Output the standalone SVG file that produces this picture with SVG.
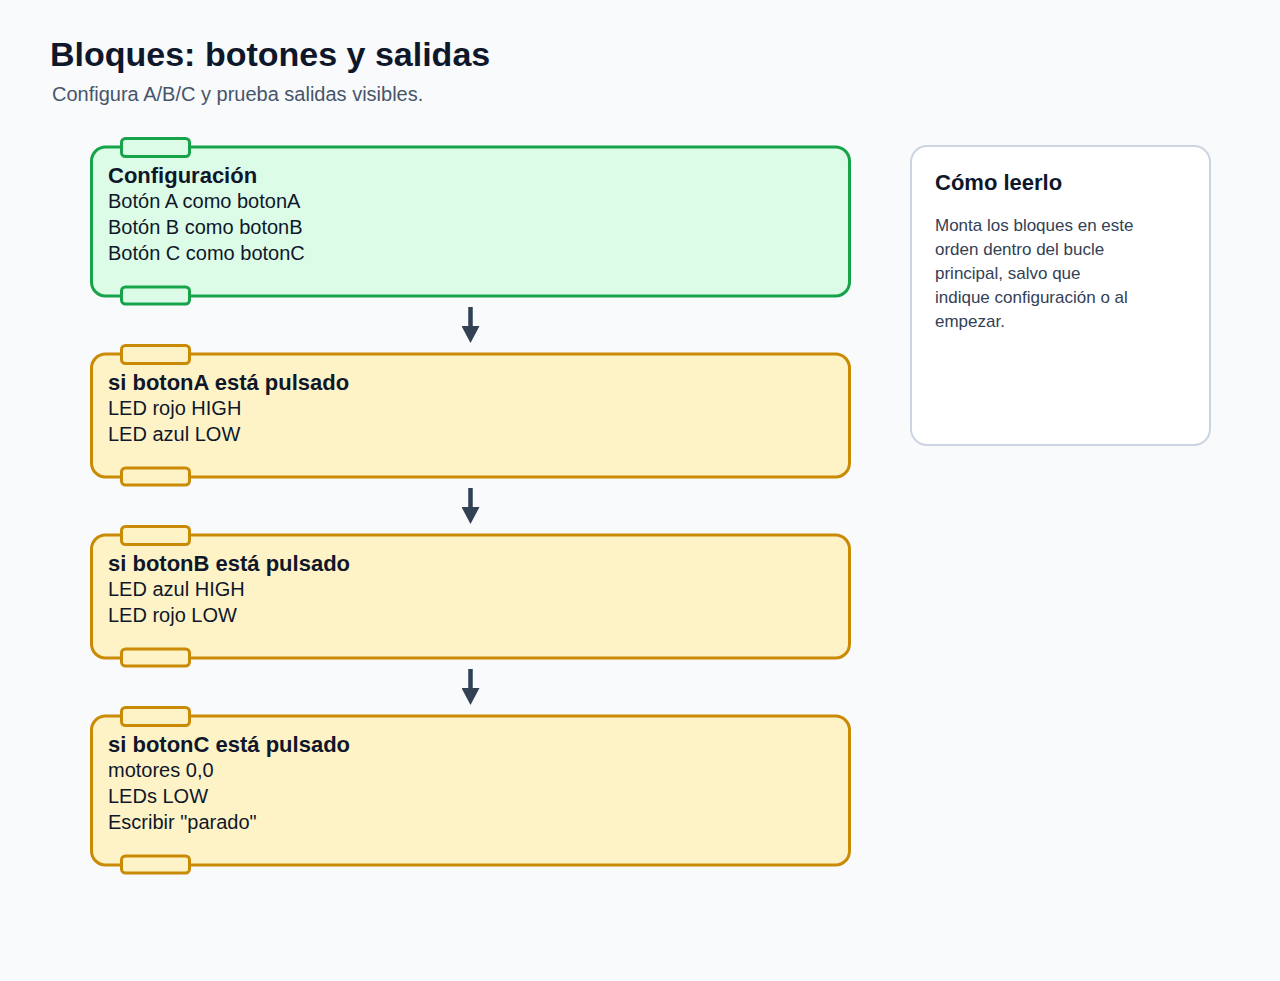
<svg xmlns="http://www.w3.org/2000/svg" width="1280" height="981" viewBox="0 0 1280 981" font-family="'Liberation Sans', Arial, Helvetica, sans-serif">
<style>
text{font-family:"Liberation Sans",Arial,Helvetica,sans-serif}
.t{fill:#0f172a}
.h{font-size:22px;font-weight:bold}
.l{font-size:20px}
.g{fill:#dcfce7;stroke:#16a34a;stroke-width:3}
.y{fill:#fef3c7;stroke:#ca8a04;stroke-width:3}
.c{stroke:#334155;stroke-width:4.5}
</style>
<defs>
<marker id="ah" markerUnits="userSpaceOnUse" markerWidth="17" markerHeight="18" refX="0" refY="9" orient="auto" viewBox="0 0 17 18">
<path d="M0,0 L17,9 L0,18 Z" fill="#334155"/>
</marker>
</defs>
<rect width="1280" height="981" fill="#f8fafc"/>
<text class="t" x="50" y="66" font-size="34" font-weight="bold">Bloques: botones y salidas</text>
<text x="52" y="101" font-size="20" fill="#475569">Configura A/B/C y prueba salidas visibles.</text>

<g id="config">
<rect class="g" x="91.5" y="147" width="758" height="149" rx="14"/>
<rect class="g" x="121.5" y="138.5" width="68" height="18" rx="4"/>
<rect class="g" x="121.5" y="287" width="68" height="17" rx="4"/>
<text class="t h" x="108" y="183">Configuración</text>
<text class="t l" x="108" y="208">Botón A como botonA</text>
<text class="t l" x="108" y="234">Botón B como botonB</text>
<text class="t l" x="108" y="260">Botón C como botonC</text>
</g>

<g id="botonA">
<rect class="y" x="91.5" y="354" width="758" height="123" rx="14"/>
<rect class="y" x="121.5" y="345.5" width="68" height="18" rx="4"/>
<rect class="y" x="121.5" y="468" width="68" height="17" rx="4"/>
<text class="t h" x="108" y="390">si botonA está pulsado</text>
<text class="t l" x="108" y="415">LED rojo HIGH</text>
<text class="t l" x="108" y="441">LED azul LOW</text>
</g>

<g id="botonB">
<rect class="y" x="91.5" y="535" width="758" height="123" rx="14"/>
<rect class="y" x="121.5" y="526.5" width="68" height="18" rx="4"/>
<rect class="y" x="121.5" y="649" width="68" height="17" rx="4"/>
<text class="t h" x="108" y="571">si botonB está pulsado</text>
<text class="t l" x="108" y="596">LED azul HIGH</text>
<text class="t l" x="108" y="622">LED rojo LOW</text>
</g>

<g id="botonC">
<rect class="y" x="91.5" y="716" width="758" height="149" rx="14"/>
<rect class="y" x="121.5" y="707.5" width="68" height="18" rx="4"/>
<rect class="y" x="121.5" y="856" width="68" height="17" rx="4"/>
<text class="t h" x="108" y="752">si botonC está pulsado</text>
<text class="t l" x="108" y="777">motores 0,0</text>
<text class="t l" x="108" y="803">LEDs LOW</text>
<text class="t l" x="108" y="829">Escribir "parado"</text>
</g>

<g id="connectors">
<line class="c" x1="470.5" y1="307" x2="470.5" y2="326" marker-end="url(#ah)"/>
<line class="c" x1="470.5" y1="488" x2="470.5" y2="507" marker-end="url(#ah)"/>
<line class="c" x1="470.5" y1="669" x2="470.5" y2="688" marker-end="url(#ah)"/>
</g>

<g id="legend">
<rect x="911" y="146" width="299" height="299" rx="16" fill="#ffffff" stroke="#cbd5e1" stroke-width="2"/>
<text class="t" x="935" y="190" font-size="22" font-weight="bold">Cómo leerlo</text>
<g font-size="17" fill="#334155">
<text x="935" y="231">Monta los bloques en este</text>
<text x="935" y="255">orden dentro del bucle</text>
<text x="935" y="279">principal, salvo que</text>
<text x="935" y="303">indique configuración o al</text>
<text x="935" y="327">empezar.</text>
</g>
</g>
</svg>
